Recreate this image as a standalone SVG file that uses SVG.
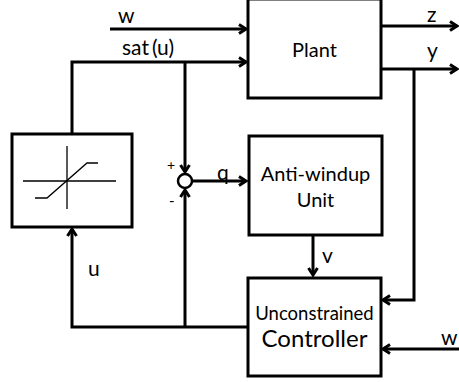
<svg xmlns="http://www.w3.org/2000/svg" width="459" height="382" viewBox="0 0 459 382">
<defs>
<marker id="ah" markerWidth="12" markerHeight="12" refX="9" refY="6" orient="auto" markerUnits="userSpaceOnUse">
<path d="M2,1.5 L9,6 L2,10.5" fill="none" stroke="#000" stroke-width="3"/>
</marker>
<style>
.box{fill:#fff;stroke:#000;stroke-width:3}
.ln{fill:none;stroke:#000;stroke-width:3}
.arr{fill:none;stroke:#000;stroke-width:3;marker-end:url(#ah)}
.thin{fill:none;stroke:#000;stroke-width:1.3}
text{font-family:Lato,"Liberation Sans",sans-serif;fill:#000}
.lb{font-size:21px}
.bt{text-anchor:middle}
</style>
</defs>
<rect width="459" height="382" fill="#fff"/>
<g id="connectors">
<path class="arr" d="M110,29 H246"/>
<path class="arr" d="M72,134 V62 H246"/>
<path class="arr" d="M185,62 V172"/>
<path class="arr" d="M192,181 H246"/>
<path class="arr" d="M381,26 H457"/>
<path class="arr" d="M381,69 H457"/>
<path class="arr" d="M414,69 V300 H383"/>
<path class="arr" d="M313,235 V275"/>
<path class="arr" d="M459,349 H383"/>
<path class="arr" d="M248,327 H72 V229"/>
<path class="arr" d="M185,327 V190"/>
</g>
<g id="labels">
<text class="lb" x="118" y="23">w</text>
<text class="lb" x="122" y="55">sat<tspan dx="3">(u)</tspan></text>
<text class="lb" x="427" y="22">z</text>
<text class="lb" x="427" y="58">y</text>
<text class="lb" x="217" y="180">q</text>
<text x="167" y="170" font-size="14">+</text>
<text x="169" y="206" font-size="15">-</text>
<text class="lb" x="322" y="263">v</text>
<text class="lb" x="88" y="276">u</text>
<text class="lb" x="441" y="345">w</text>
</g>
<g id="plant">
<rect class="box" x="248" y="-1" width="133" height="99"/>
<text class="bt" x="314.5" y="57" font-size="20">Plant</text>
</g>
<g id="saturation">
<rect class="box" x="12" y="134" width="120" height="93"/>
<path class="thin" d="M23,181 H116 M67,146 V209"/>
<path class="thin" d="M35,198 H47 L87,163 H98"/>
</g>
<g id="sum">
<circle cx="185" cy="181" r="7" fill="#fff" stroke="#000" stroke-width="2.5"/>
</g>
<g id="antiwindup">
<rect class="box" x="249" y="136" width="133" height="99"/>
<text class="bt" x="315.5" y="181" font-size="20">Anti-windup</text>
<text class="bt" x="315.5" y="207" font-size="20">Unit</text>
</g>
<g id="controller">
<rect class="box" x="248" y="278" width="133" height="98"/>
<text class="bt" x="314.5" y="320" font-size="18.5">Unconstrained</text>
<text class="bt" x="314.5" y="347" font-size="24">Controller</text>
</g>
</svg>
